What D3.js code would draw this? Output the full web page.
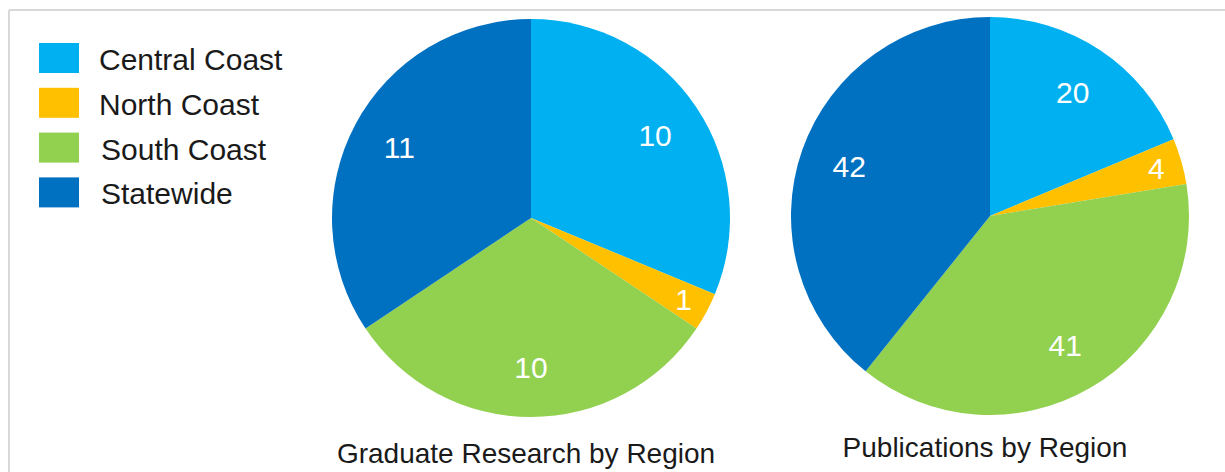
<!DOCTYPE html>
<html>
<head>
<meta charset="utf-8">
<script src="https://cdn.jsdelivr.net/npm/d3@7"></script>
<style>
  body { margin: 0; background: #fff; }
  text { font-family: 'Liberation Sans', Arial, sans-serif; }
</style>
</head>
<body>
<div id="graf"></div>
<script>
// datos
const regiones = ['Central Coast', 'North Coast', 'South Coast', 'Statewide']
const graduateResearch = [10, 1, 10, 11]
const publications = [20, 4, 41, 42]
const titulos = ['Graduate Research by Region', 'Publications by Region']
const colores = ['#00b0f0', '#ffc000', '#92d050', '#0070c0']

const anchoTotal = 1225
const altoTotal = 472

const svg = d3.select('#graf')
  .append('svg')
  .attr('width', anchoTotal)
  .attr('height', altoTotal)

// borde gris (arriba e izquierda)
svg.append('line')
  .attr('x1', 9).attr('x2', anchoTotal)
  .attr('y1', 10).attr('y2', 10)
  .attr('stroke', '#d9d9d9').attr('stroke-width', 2)
svg.append('line')
  .attr('x1', 9).attr('x2', 9)
  .attr('y1', 10).attr('y2', altoTotal)
  .attr('stroke', '#d9d9d9').attr('stroke-width', 2)

const color = d3.scaleOrdinal()
  .domain(regiones)
  .range(colores)

// leyenda
const leyenda = svg.append('g')
  .attr('transform', 'translate(39, 43)')

const items = leyenda.selectAll('g')
  .data(regiones)
  .enter()
  .append('g')
  .attr('transform', (d, i) => `translate(0, ${i * 44.8})`)

items.append('rect')
  .attr('width', 40)
  .attr('height', 30)
  .attr('fill', d => color(d))

items.append('text')
  .attr('x', (d, i) => i < 2 ? 60 : 62)
  .attr('y', 27)
  .attr('font-size', 30)
  .attr('fill', '#1a1a1a')
  .text(d => d)

const radio = 199

const pie = d3.pie()
  .sort(null)
  .value(d => d.valor)

const arco = d3.arc()
  .innerRadius(0)
  .outerRadius(radio)

function dibujarPie(valores, cx, cy, titulo, tituloY) {
  const data = regiones.map((r, i) => ({ region: r, valor: valores[i] }))
  const g = svg.append('g')
    .attr('transform', `translate(${cx}, ${cy})`)

  const slices = pie(data)

  g.selectAll('path')
    .data(slices)
    .enter()
    .append('path')
    .attr('d', arco)
    .attr('fill', d => color(d.data.region))

  g.selectAll('text.etiqueta')
    .data(slices)
    .enter()
    .append('text')
    .attr('class', 'etiqueta')
    .attr('transform', d => {
      const chico = (d.endAngle - d.startAngle) < 0.5
      const r = chico ? radio * 0.87 : radio * 0.75
      const a = (d.startAngle + d.endAngle) / 2
      return `translate(${Math.sin(a) * r}, ${-Math.cos(a) * r})`
    })
    .attr('text-anchor', 'middle')
    .attr('dy', '0.36em')
    .attr('font-size', 30)
    .attr('fill', '#fff')
    .text(d => d.data.valor)

  svg.append('text')
    .attr('x', cx - 5)
    .attr('y', tituloY)
    .attr('text-anchor', 'middle')
    .attr('font-size', 28)
    .attr('fill', '#1a1a1a')
    .text(titulo)
}

dibujarPie(graduateResearch, 531, 218, titulos[0], 463)
dibujarPie(publications, 990, 216, titulos[1], 457)
</script>
</body>
</html>
